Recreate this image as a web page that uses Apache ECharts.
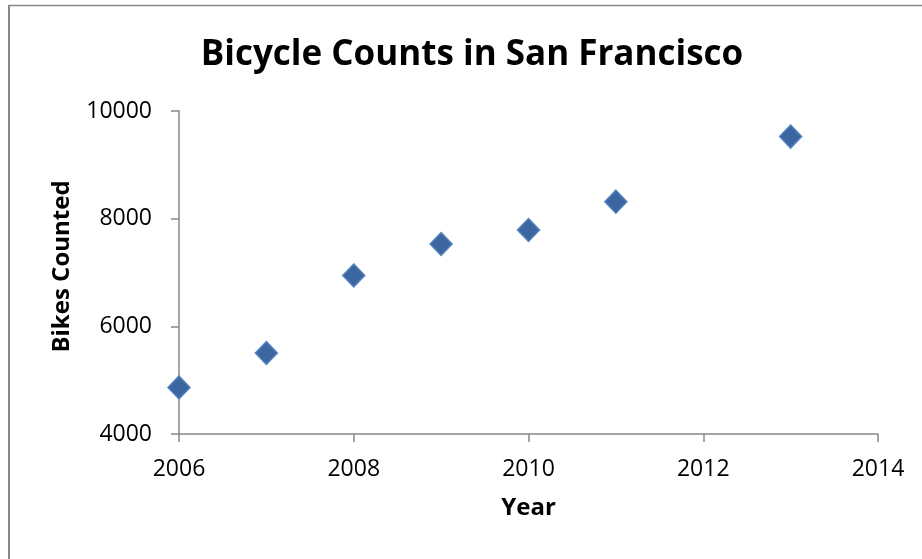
<!DOCTYPE html>
<html>
<head>
<meta charset="utf-8">
<script src="https://cdn.jsdelivr.net/npm/echarts@6/dist/echarts.min.js"></script>
<style>
html,body{margin:0;padding:0;background:#fff;}
#chart{width:922px;height:559px;}
</style>
</head>
<body>
<div id="chart"></div>
<script>
const years = [2006, 2007, 2008, 2009, 2010, 2011, 2013];
const bikes = [4865, 5505, 6945, 7530, 7790, 8315, 9525];
const xTicks = [2006, 2008, 2010, 2012, 2014];
const yTicks = [4000, 6000, 8000, 10000];

const chart = echarts.init(document.getElementById('chart'), null, {renderer: 'canvas'});
const FONT = "'Open Sans', 'Noto Sans', sans-serif";
const AX = '#888888';
const option = {
  backgroundColor: '#ffffff',
  animation: false,
  title: {
    text: 'Bicycle Counts in San Francisco',
    left: 467, top: 33, textAlign: 'center',
    textStyle: {fontFamily: FONT, fontWeight: 'bold', fontSize: 35, color: '#000'}
  },
  graphic: [
    {type: 'line', shape: {x1: 9, y1: 5.5, x2: 922, y2: 5.5}, style: {stroke: AX, lineWidth: 1.5}},
    {type: 'line', shape: {x1: 9, y1: 5, x2: 9, y2: 559}, style: {stroke: AX, lineWidth: 2}}
  ],
  grid: {left: 179, right: 44, top: 111, bottom: 125},
  xAxis: {
    type: 'value', min: xTicks[0], max: xTicks[xTicks.length - 1], interval: 2,
    name: 'Year', nameLocation: 'middle', nameGap: 62,
    nameTextStyle: {fontFamily: FONT, fontWeight: 'bold', fontSize: 24, color: '#000'},
    axisLine: {show: true, lineStyle: {color: AX, width: 1.5}},
    axisTick: {show: true, length: 8, lineStyle: {color: AX, width: 1.5}},
    splitLine: {show: false},
    axisLabel: {fontFamily: FONT, fontSize: 23, color: '#000', margin: 24, formatter: v => String(v)}
  },
  yAxis: {
    type: 'value', min: yTicks[0], max: yTicks[yTicks.length - 1], interval: 2000,
    name: 'Bikes Counted', nameLocation: 'middle', nameGap: 105, nameRotate: 90,
    nameTextStyle: {fontFamily: FONT, fontWeight: 'bold', fontSize: 24, color: '#000', padding: [0, 0, 0, 12]},
    axisLine: {show: true, lineStyle: {color: AX, width: 1.5}},
    axisTick: {show: true, length: 8, lineStyle: {color: AX, width: 1.5}},
    splitLine: {show: false},
    axisLabel: {fontFamily: FONT, fontSize: 23, color: '#000', margin: 27, formatter: v => String(v)}
  },
  series: [{
    type: 'scatter',
    data: years.map((y, i) => [y, bikes[i]]),
    symbol: 'diamond',
    symbolSize: [22, 23],
    itemStyle: {color: '#3b66a0', borderColor: '#5282c0', borderWidth: 1.5, opacity: 1}
  }]
};
chart.setOption(option);
</script>
</body>
</html>
